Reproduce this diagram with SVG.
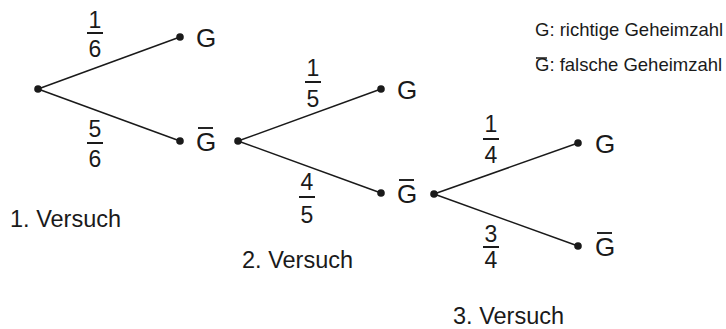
<svg xmlns="http://www.w3.org/2000/svg" width="726" height="329" viewBox="0 0 726 329">
  <style>
    text { font-family: "Liberation Sans", Arial, sans-serif; fill: #1a1a1a; }
    .lbl { font-size: 26px; }
    .num { font-size: 23px; text-anchor: middle; }
    .stage { font-size: 23.5px; }
    .legend { font-size: 18.5px; }
    .edge { stroke: #1a1a1a; stroke-width: 1.5; fill: none; }
    .bar { stroke: #1a1a1a; stroke-width: 2; }
    .ovl { stroke: #1a1a1a; stroke-width: 1.9; }
    .dot { fill: #1a1a1a; }
  </style>

  <!-- branches -->
  <g id="connectors">
    <line class="edge" x1="38" y1="89" x2="180" y2="37"/>
    <line class="edge" x1="38" y1="89" x2="180" y2="141"/>
    <line class="edge" x1="238" y1="141" x2="381" y2="89"/>
    <line class="edge" x1="238" y1="141" x2="381" y2="193"/>
    <line class="edge" x1="434" y1="194" x2="578" y2="143"/>
    <line class="edge" x1="434" y1="194" x2="578" y2="246"/>
  </g>

  <!-- probabilities on the branches -->
  <g id="probabilities">
    <text class="num" x="95" y="28">1</text>
    <line class="bar" x1="87" y1="33" x2="103" y2="33"/>
    <text class="num" x="95" y="57">6</text>

    <text class="num" x="95" y="137">5</text>
    <line class="bar" x1="87" y1="143" x2="103" y2="143"/>
    <text class="num" x="95" y="167">6</text>

    <text class="num" x="313" y="76">1</text>
    <line class="bar" x1="305" y1="82" x2="321" y2="82"/>
    <text class="num" x="313" y="107">5</text>

    <text class="num" x="307" y="190">4</text>
    <line class="bar" x1="299" y1="197" x2="315" y2="197"/>
    <text class="num" x="307" y="223">5</text>

    <text class="num" x="491" y="132">1</text>
    <line class="bar" x1="483" y1="139" x2="499" y2="139"/>
    <text class="num" x="491" y="163">4</text>

    <text class="num" x="491" y="242">3</text>
    <line class="bar" x1="483" y1="247" x2="499" y2="247"/>
    <text class="num" x="491" y="268">4</text>
  </g>

  <g id="root">
    <circle class="dot" cx="38" cy="89" r="3.8"/>
  </g>

  <g id="n1-G">
    <circle class="dot" cx="180" cy="37" r="3.8"/>
    <text class="lbl" x="196" y="47">G</text>
  </g>

  <g id="n1-notG">
    <circle class="dot" cx="180" cy="141" r="3.8"/>
    <text class="lbl" x="196" y="151">G</text>
    <line class="ovl" x1="198" y1="128" x2="213" y2="128"/>
    <circle class="dot" cx="238" cy="141" r="3.8"/>
  </g>

  <g id="n2-G">
    <circle class="dot" cx="381" cy="89" r="3.8"/>
    <text class="lbl" x="397" y="99">G</text>
  </g>

  <g id="n2-notG">
    <circle class="dot" cx="381" cy="193" r="3.8"/>
    <text class="lbl" x="397" y="203">G</text>
    <line class="ovl" x1="399" y1="180" x2="414" y2="180"/>
    <circle class="dot" cx="434" cy="194" r="3.8"/>
  </g>

  <g id="n3-G">
    <circle class="dot" cx="578" cy="143" r="3.8"/>
    <text class="lbl" x="595" y="153">G</text>
  </g>

  <g id="n3-notG">
    <circle class="dot" cx="578" cy="246" r="3.8"/>
    <text class="lbl" x="595" y="256">G</text>
    <line class="ovl" x1="597" y1="233" x2="612" y2="233"/>
  </g>

  <g id="stages">
    <text class="stage" x="10" y="227">1. Versuch</text>
    <text class="stage" x="242" y="268">2. Versuch</text>
    <text class="stage" x="453" y="324">3. Versuch</text>
  </g>

  <g id="legend">
    <text class="legend" x="535" y="36">G: richtige Geheimzahl</text>
    <text class="legend" x="535" y="71">G: falsche Geheimzahl</text>
    <line class="ovl" x1="536" y1="58" x2="547" y2="58" style="stroke-width:1.5"/>
  </g>
</svg>
